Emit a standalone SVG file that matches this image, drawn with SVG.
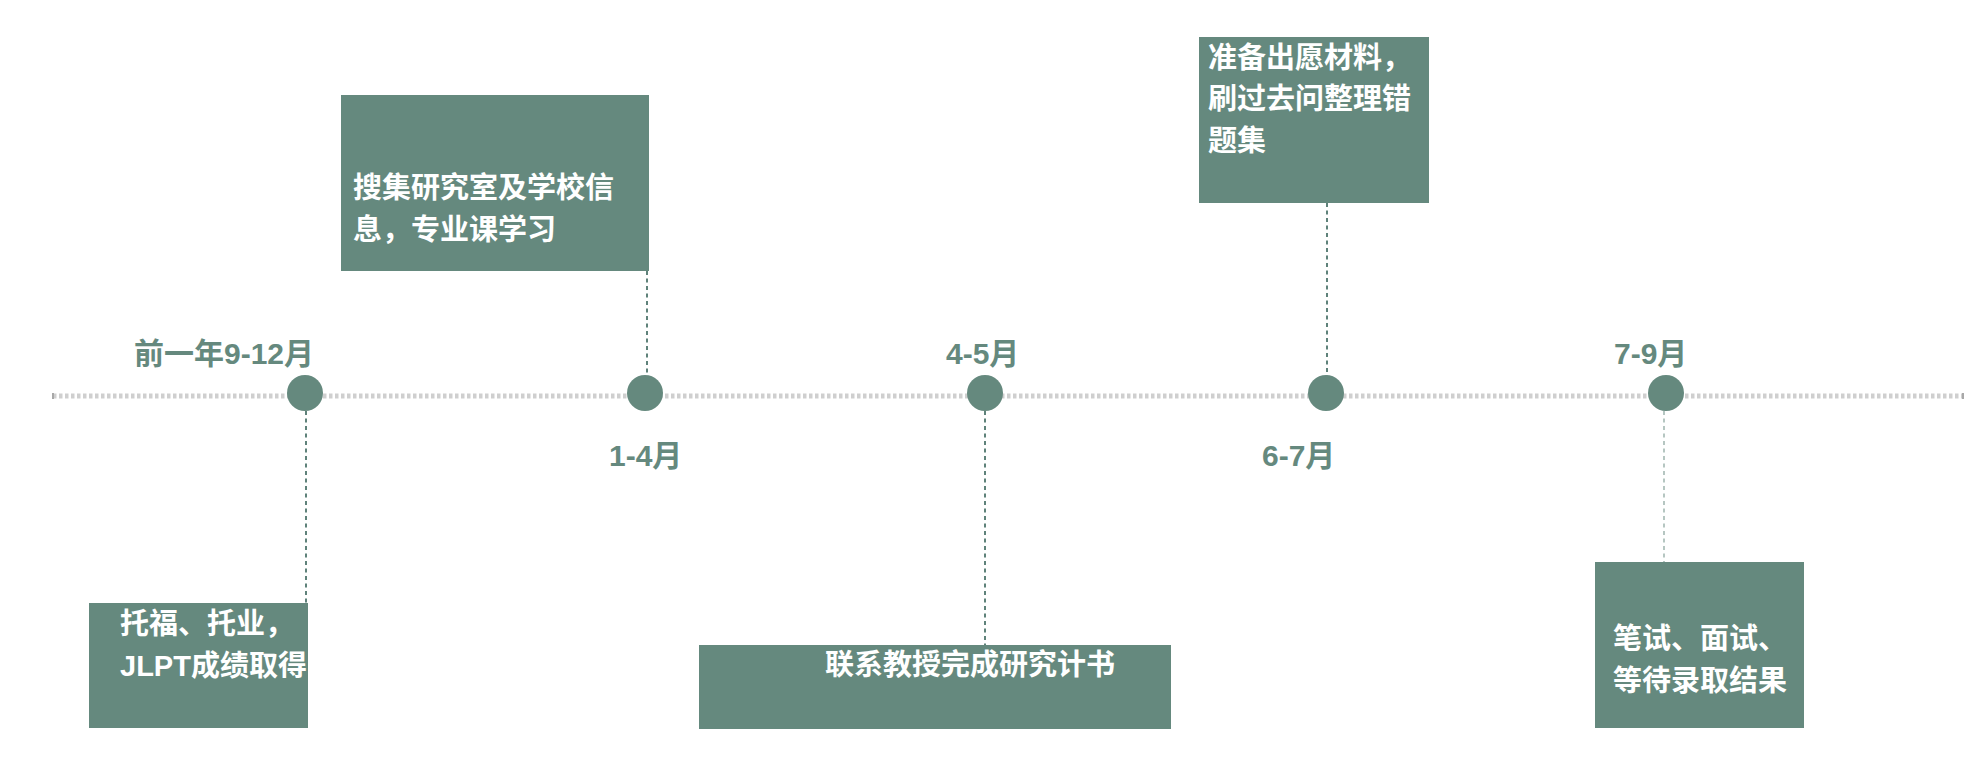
<svg xmlns="http://www.w3.org/2000/svg" width="1971" height="761" viewBox="0 0 1971 761">
  <defs>
    <style>
      .box { fill: #65897E; }
      .txt { fill: #FFFFFF; font-family: "Liberation Sans", "Noto Sans CJK SC", sans-serif; font-weight: bold; font-size: 29px; }
      .lbl { fill: #65897E; font-family: "Liberation Sans", "Noto Sans CJK SC", sans-serif; font-weight: bold; font-size: 30px; }
      .dot { fill: #65897E; }
      .conn { stroke: #5F827A; stroke-width: 2; stroke-dasharray: 4 3.5; fill: none; }
      .conn-light { stroke: #8FA8A1; stroke-width: 1.3; stroke-dasharray: 4 3.5; fill: none; }
      .axis { stroke: #CFCFCF; stroke-width: 5; stroke-dasharray: 3.5 2.5; fill: none; }
    </style>
    <marker id="cap" markerWidth="2" markerHeight="6" refX="1" refY="3" orient="auto" markerUnits="userSpaceOnUse">
      <rect x="0" y="0" width="2" height="6" fill="#A8A8A8"/>
    </marker>
  </defs>

  <rect width="1971" height="761" fill="#FFFFFF"/>

  <g id="connectors">
    <line class="axis" x1="53" y1="396" x2="1963" y2="396" marker-start="url(#cap)" marker-end="url(#cap)"/>
    <line class="conn" x1="306" y1="411" x2="306" y2="603"/>
    <line class="conn" x1="647" y1="271" x2="647" y2="376"/>
    <line class="conn" x1="985" y1="411" x2="985" y2="645"/>
    <line class="conn" x1="1327" y1="203" x2="1327" y2="376"/>
    <line class="conn-light" x1="1664" y1="411" x2="1664" y2="562"/>
  </g>

  <g id="milestone-1">
    <circle class="dot" cx="305" cy="393" r="18"/>
    <text class="lbl" x="134" y="364">前一年9-12月</text>
  </g>
  <g id="milestone-2">
    <circle class="dot" cx="645" cy="393" r="18"/>
    <text class="lbl" x="609" y="466">1-4月</text>
  </g>
  <g id="milestone-3">
    <circle class="dot" cx="985" cy="393" r="18"/>
    <text class="lbl" x="946" y="364">4-5月</text>
  </g>
  <g id="milestone-4">
    <circle class="dot" cx="1326" cy="393" r="18"/>
    <text class="lbl" x="1262" y="466">6-7月</text>
  </g>
  <g id="milestone-5">
    <circle class="dot" cx="1666" cy="393" r="18"/>
    <text class="lbl" x="1614" y="364">7-9月</text>
  </g>

  <g id="box-exams">
    <rect class="box" x="89" y="603" width="219" height="125"/>
    <text class="txt" x="120" y="634">托福、托业，</text>
    <text class="txt" x="120" y="676">JLPT成绩取得</text>
  </g>
  <g id="box-research">
    <rect class="box" x="341" y="95" width="308" height="176"/>
    <text class="txt" x="353" y="198">搜集研究室及学校信</text>
    <text class="txt" x="353" y="240">息，专业课学习</text>
  </g>
  <g id="box-contact">
    <rect class="box" x="699" y="645" width="472" height="84"/>
    <text class="txt" x="825" y="675">联系教授完成研究计书</text>
  </g>
  <g id="box-prepare">
    <rect class="box" x="1199" y="37" width="230" height="166"/>
    <text class="txt" x="1208" y="68">准备出愿材料，</text>
    <text class="txt" x="1208" y="109">刷过去问整理错</text>
    <text class="txt" x="1208" y="151">题集</text>
  </g>
  <g id="box-results">
    <rect class="box" x="1595" y="562" width="209" height="166"/>
    <text class="txt" x="1613" y="649">笔试、面试、</text>
    <text class="txt" x="1613" y="691">等待录取结果</text>
  </g>
</svg>
